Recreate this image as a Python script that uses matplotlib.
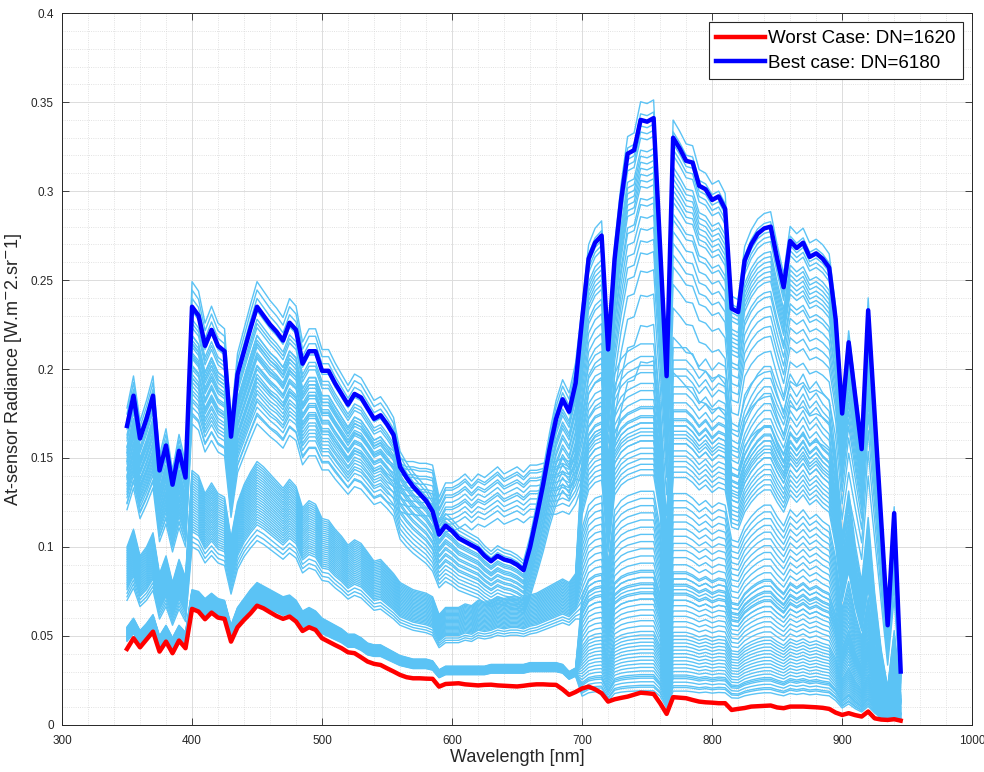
import matplotlib
matplotlib.use("Agg")
import matplotlib.pyplot as plt
import numpy as np
from matplotlib.ticker import MultipleLocator

plt.rcParams["font.family"] = ["Liberation Sans", "DejaVu Sans"]

# ── wavelength grids (nm) ─────────────────────────────────────────────────────
VIS_WL = np.arange(350, 700, 5)   # 350..695
NIR_WL = np.arange(700, 950, 5)   # 700..945

# ── best case (DN=6180) ──────────────────────────────────────────────────────
BEST_VIS = [0.168, 0.185, 0.161, 0.172, 0.185, 0.143, 0.157, 0.135, 0.154, 0.139,
            0.235, 0.230, 0.213, 0.222, 0.213, 0.210, 0.162, 0.197, 0.210, 0.223,
            0.235, 0.230, 0.225, 0.221, 0.216, 0.226, 0.222, 0.203, 0.210, 0.210,
            0.199, 0.199, 0.192, 0.186, 0.180, 0.186, 0.184, 0.178, 0.172, 0.174,
            0.169, 0.163, 0.145, 0.139, 0.134, 0.130, 0.126, 0.120, 0.107, 0.112,
            0.109, 0.105, 0.103, 0.101, 0.099, 0.095, 0.092, 0.095, 0.093, 0.092,
            0.090, 0.087, 0.100, 0.117, 0.135, 0.155, 0.172, 0.183, 0.176, 0.192]
BEST_NIR = [0.228, 0.262, 0.271, 0.275, 0.211, 0.262, 0.295, 0.321, 0.323, 0.340,
            0.339, 0.341, 0.268, 0.196, 0.330, 0.324, 0.317, 0.316, 0.303, 0.301,
            0.295, 0.297, 0.290, 0.234, 0.232, 0.261, 0.270, 0.276, 0.279, 0.280,
            0.262, 0.246, 0.272, 0.268, 0.271, 0.263, 0.265, 0.262, 0.257, 0.228,
            0.175, 0.215, 0.185, 0.155, 0.233, 0.174, 0.115, 0.056, 0.119, 0.030]

# ── worst case (DN=1620) ──────────────────────────────────────────────────────
WORST_VIS = [0.0427, 0.0487, 0.0436, 0.0480, 0.0524, 0.0412, 0.0468, 0.0403, 0.0474, 0.0431,
             0.0652, 0.0637, 0.0594, 0.0631, 0.0603, 0.0596, 0.0468, 0.0549, 0.0590, 0.0627,
             0.0670, 0.0655, 0.0633, 0.0612, 0.0596, 0.0609, 0.0581, 0.0528, 0.0549, 0.0534,
             0.0487, 0.0468, 0.0449, 0.0431, 0.0408, 0.0403, 0.0380, 0.0356, 0.0343, 0.0337,
             0.0318, 0.0300, 0.0281, 0.0268, 0.0262, 0.0262, 0.0260, 0.0259, 0.0215, 0.0230,
             0.0232, 0.0234, 0.0228, 0.0225, 0.0222, 0.0225, 0.0226, 0.0222, 0.0220, 0.0218,
             0.0216, 0.0220, 0.0225, 0.0228, 0.0228, 0.0226, 0.0225, 0.0200, 0.0169, 0.0185]
WORST_NIR = [0.0205, 0.0215, 0.0200, 0.0178, 0.0131, 0.0144, 0.0152, 0.0159, 0.0170, 0.0181,
             0.0178, 0.0174, 0.0122, 0.0062, 0.0156, 0.0153, 0.0150, 0.0140, 0.0131, 0.0127,
             0.0125, 0.0122, 0.0122, 0.0084, 0.0090, 0.0095, 0.0103, 0.0105, 0.0107, 0.0109,
             0.0098, 0.0094, 0.0103, 0.0103, 0.0103, 0.0101, 0.0099, 0.0096, 0.0090, 0.0069,
             0.0056, 0.0066, 0.0055, 0.0047, 0.0075, 0.0037, 0.0030, 0.0028, 0.0032, 0.0024]

# ── other spectra: upper edges of the visible bands ──────────────────────────
SOIL_VIS = [0.156, 0.172, 0.150, 0.160, 0.172, 0.133, 0.146, 0.126, 0.143, 0.129,
            0.219, 0.214, 0.198, 0.206, 0.198, 0.195, 0.151, 0.183, 0.195, 0.207,
            0.219, 0.214, 0.209, 0.206, 0.201, 0.210, 0.206, 0.189, 0.195, 0.195,
            0.185, 0.185, 0.179, 0.173, 0.167, 0.173, 0.171, 0.166, 0.160, 0.162,
            0.157, 0.154, 0.150, 0.148, 0.148, 0.147, 0.147, 0.146, 0.128, 0.136,
            0.136, 0.138, 0.141, 0.137, 0.141, 0.139, 0.142, 0.145, 0.141, 0.143,
            0.145, 0.142, 0.146, 0.146, 0.147, 0.148, 0.148, 0.150, 0.148, 0.155]
MID_VIS = [0.100, 0.110, 0.095, 0.100, 0.108, 0.085, 0.095, 0.080, 0.093, 0.083,
           0.143, 0.140, 0.130, 0.136, 0.130, 0.128, 0.105, 0.125, 0.135, 0.142,
           0.148, 0.145, 0.141, 0.137, 0.133, 0.138, 0.134, 0.122, 0.126, 0.124,
           0.116, 0.115, 0.110, 0.106, 0.101, 0.104, 0.102, 0.097, 0.092, 0.093,
           0.089, 0.085, 0.080, 0.078, 0.076, 0.075, 0.074, 0.072, 0.062, 0.066,
           0.066, 0.066, 0.068, 0.067, 0.070, 0.069, 0.070, 0.072, 0.071, 0.072,
           0.072, 0.071, 0.073, 0.074, 0.076, 0.078, 0.080, 0.082, 0.080, 0.085]
LOW_VIS = [0.055, 0.060, 0.053, 0.057, 0.062, 0.050, 0.056, 0.049, 0.056, 0.052,
           0.076, 0.075, 0.071, 0.074, 0.071, 0.070, 0.056, 0.066, 0.071, 0.076,
           0.080, 0.078, 0.076, 0.074, 0.072, 0.073, 0.070, 0.064, 0.066, 0.064,
           0.060, 0.058, 0.056, 0.054, 0.051, 0.051, 0.049, 0.046, 0.045, 0.045,
           0.043, 0.041, 0.039, 0.038, 0.037, 0.037, 0.037, 0.036, 0.031, 0.033,
           0.033, 0.033, 0.033, 0.033, 0.033, 0.033, 0.034, 0.034, 0.034, 0.034,
           0.034, 0.034, 0.035, 0.035, 0.035, 0.035, 0.035, 0.034, 0.030, 0.032]
# NIR shape of the non-vegetation spectra (1.0 at 780 nm)
FLAT_NIR = [0.85, 0.95, 0.98, 0.99, 0.70, 0.93, 0.97, 0.99, 1.00, 1.01,
            1.01, 1.01, 0.85, 0.50, 1.00, 1.00, 1.00, 0.98, 0.95, 0.97,
            0.94, 0.96, 0.95, 0.80, 0.79, 0.86, 0.90, 0.93, 0.95, 0.95,
            0.90, 0.86, 0.93, 0.90, 0.93, 0.89, 0.91, 0.88, 0.86, 0.72,
            0.50, 0.62, 0.48, 0.38, 0.55, 0.35, 0.20, 0.10, 0.25, 0.08]

# per-spectrum levels
VEG_VIS_SCALES = [1.06, 1.04, 1.02, 1.0, 0.99, 0.97, 0.96, 0.95, 0.93, 0.92, 0.91,
                  0.89, 0.88, 0.86, 0.85, 0.83, 0.82, 0.80, 0.78, 0.76, 0.74, 0.72]
VEG_NIR_SCALES = [1.03, 1.01, 0.99, 0.98, 0.97, 0.95, 0.94, 0.93, 0.92, 0.91, 0.90,
                  0.89, 0.87, 0.86, 0.84, 0.82, 0.80, 0.78, 0.75, 0.71, 0.66, 0.60]
SOIL_VIS_SCALES = [1.0, 0.98, 0.97, 0.95, 0.94, 0.92, 0.90, 0.89, 0.87, 0.85, 0.83, 0.80]
SOIL_NIR_LEVELS = [0.212, 0.205, 0.200, 0.196, 0.190, 0.186, 0.181, 0.177, 0.172, 0.168,
                   0.163, 0.158]
MID_VIS_SCALES = [1.0, 0.99, 0.98, 0.97, 0.96, 0.95, 0.94, 0.93, 0.92, 0.91, 0.90, 0.89,
                  0.88, 0.87, 0.86, 0.85, 0.84, 0.83, 0.82, 0.81, 0.80, 0.79, 0.78, 0.77,
                  0.76, 0.74, 0.72, 0.70]
MID_NIR_LEVELS = [0.176, 0.171, 0.168, 0.165, 0.161, 0.158, 0.154, 0.151, 0.148, 0.145,
                  0.142, 0.139, 0.130, 0.126, 0.122, 0.118, 0.114, 0.110, 0.106, 0.102,
                  0.098, 0.094, 0.090, 0.086, 0.082, 0.078, 0.074, 0.070]
LOW_VIS_SCALES = [1.0, 0.995, 0.99, 0.985, 0.98, 0.975, 0.97, 0.965, 0.96, 0.955, 0.95,
                  0.945, 0.94, 0.935, 0.93, 0.925, 0.92, 0.915, 0.91, 0.905, 0.90, 0.895,
                  0.89, 0.885, 0.88, 0.875, 0.87, 0.865, 0.86, 0.855]
LOW_NIR_LEVELS = [0.085, 0.082, 0.079, 0.076, 0.073, 0.070, 0.067, 0.064, 0.061, 0.058,
                  0.055, 0.052, 0.050, 0.048, 0.046, 0.044, 0.042, 0.040, 0.038, 0.036,
                  0.034, 0.032, 0.030, 0.028, 0.027, 0.026, 0.024, 0.022, 0.021, 0.019]

Y_TICKS = [0, 0.05, 0.1, 0.15, 0.2, 0.25, 0.3, 0.35, 0.4]
Y_TICK_LABELS = ["0", "0.05", "0.1", "0.15", "0.2", "0.25", "0.3", "0.35", "0.4"]

LIGHT = "#5BC3F5"

wl = np.concatenate([VIS_WL, NIR_WL])


def spectrum(vis, vis_scale, nir, nir_scale):
    return np.concatenate([np.asarray(vis) * vis_scale, np.asarray(nir) * nir_scale])


fig = plt.figure(figsize=(9.84, 7.72), dpi=100)
ax = fig.add_axes([0.063, 0.061, 0.925, 0.922])

for s, t in zip(VEG_VIS_SCALES, VEG_NIR_SCALES):
    ax.plot(wl, spectrum(BEST_VIS, s, BEST_NIR, t), color=LIGHT, lw=1.0, zorder=2)
for s, lv in zip(SOIL_VIS_SCALES, SOIL_NIR_LEVELS):
    ax.plot(wl, spectrum(SOIL_VIS, s, FLAT_NIR, lv), color=LIGHT, lw=1.0, zorder=2)
for s, lv in zip(MID_VIS_SCALES, MID_NIR_LEVELS):
    ax.plot(wl, spectrum(MID_VIS, s, FLAT_NIR, lv), color=LIGHT, lw=1.0, zorder=2)
for s, lv in zip(LOW_VIS_SCALES, LOW_NIR_LEVELS):
    ax.plot(wl, spectrum(LOW_VIS, s, FLAT_NIR, lv), color=LIGHT, lw=1.0, zorder=2)

ax.plot(wl, np.concatenate([WORST_VIS, WORST_NIR]), color="#FF0000", lw=3.2,
        label="Worst Case: DN=1620", zorder=4)
ax.plot(wl, np.concatenate([BEST_VIS, BEST_NIR]), color="#0000FF", lw=3.2,
        label="Best case: DN=6180", zorder=4)

ax.set_xlim(300, 1000)
ax.set_ylim(0, 0.4)
ax.xaxis.set_major_locator(MultipleLocator(100))
ax.xaxis.set_minor_locator(MultipleLocator(20))
ax.set_yticks(Y_TICKS)
ax.set_yticklabels(Y_TICK_LABELS)
ax.yaxis.set_minor_locator(MultipleLocator(0.01))

ax.grid(True, which="major", color="#dcdcdc", lw=0.7, zorder=0)
ax.grid(True, which="minor", color="#d8d8d8", lw=0.6, ls=":", zorder=0)
ax.set_axisbelow(True)
ax.tick_params(which="both", direction="in", top=True, right=True,
               labelsize=8.5, colors="#262626", labelcolor="#262626")
ax.tick_params(which="major", length=5, width=0.6)
ax.tick_params(which="minor", length=0)
ax.tick_params(axis="x", which="major", pad=7)
ax.tick_params(axis="y", which="major", pad=6)
for sp in ax.spines.values():
    sp.set_color("#262626")
    sp.set_linewidth(0.7)

ax.set_xlabel("Wavelength [nm]", fontsize=13, color="#262626", labelpad=2)
ax.set_ylabel(r"At-sensor Radiance [W.m$^{-}$2.sr$^{-}$1]", fontsize=13,
              color="#262626", labelpad=5)

leg = ax.legend(loc="upper right", fontsize=13.5, frameon=True, fancybox=False,
                handlelength=2.6, handletextpad=0.15, borderpad=0.4,
                labelspacing=0.4, borderaxespad=0.5)
leg.get_frame().set_edgecolor("#262626")
leg.get_frame().set_linewidth(0.8)
leg.get_frame().set_alpha(1.0)

fig.savefig("out.png", dpi=100)
